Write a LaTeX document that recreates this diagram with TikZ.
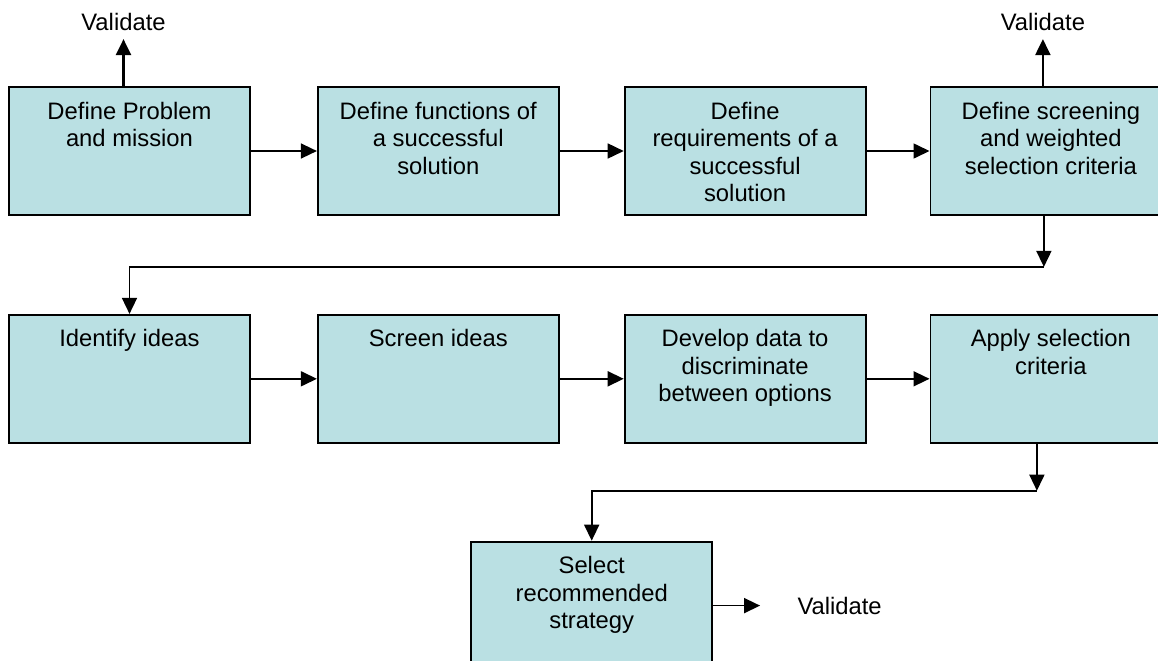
\documentclass[tikz,border=0pt]{standalone}
\usepackage{fontspec}
\setmainfont{Liberation Sans}
\usetikzlibrary{positioning,arrows.meta,calc}
\definecolor{stepfill}{RGB}{186,224,227}
\newcommand{\steptext}[1]{\parbox[c][64pt][t]{118pt}{\centering\rule{0pt}{16pt}#1}}

\begin{document}
\begin{tikzpicture}[
    x=0.5pt, y=-0.5pt,
    every node/.style={
        font=\fontsize{11.9}{13.75}\selectfont
      },
    stepbox/.style={
        draw,
        fill=stepfill,
        line width=0.9pt,
        inner sep=0pt,
        minimum width=120.5pt,
        minimum height=64pt
      },
    link/.style={line width=0.8pt, -{Triangle[length=8pt,width=7.5pt]}}
    ]
    \useasboundingbox (0,0) rectangle (1158,660);
    \clip (0,0) rectangle (1158,660);

    % ============= DEFINITION (ROW 1) ==================

    % -------------------------------
    \node[stepbox] at (129.5,151) (DP) {\steptext{Define Problem\\and mission}};
    % -------------------------------

    % -------------------------------
    \node[stepbox, right=33pt of DP] (DF) {\steptext{Define functions of\\a successful\\solution}};
    % -------------------------------

    % -------------------------------
    \node[stepbox, right=32pt of DF] (DR) {\steptext{Define\\requirements of a\\successful\\solution}};
    % -------------------------------

    % -------------------------------
    \node[stepbox, right=31.5pt of DR] (DS) {\steptext{Define screening\\and weighted\\selection criteria}};
    % -------------------------------

    % ============= IDEAS (ROW 2) ==================

    % -------------------------------
    \node[stepbox, below=49pt of DP] (II) {\steptext{Identify ideas}};
    % -------------------------------

    % -------------------------------
    \node[stepbox, below=49pt of DF] (SI) {\steptext{Screen ideas}};
    % -------------------------------

    % -------------------------------
    \node[stepbox, below=49pt of DR] (DD) {\steptext{Develop data to\\discriminate\\between options}};
    % -------------------------------

    % -------------------------------
    \node[stepbox, below=49pt of DS] (AS) {\steptext{Apply selection\\criteria}};
    % -------------------------------

    % ============= STRATEGY ==================

    % -------------------------------
    \coordinate (mid) at ($(SI.south)!0.5!(DD.south)$);
    \node[stepbox, below=48.5pt of mid] (SR) {\steptext{Select\\recommended\\strategy}};
    % -------------------------------

    % ============= VALIDATE ==================
    \node[above=23.5pt of DP.north, xshift=-3pt, inner sep=4pt] (V1) {Validate};
    \node[above=23.5pt of DS.north, xshift=-4pt, inner sep=4pt] (V2) {Validate};
    \coordinate[right=23.5pt of SR.east] (T3);
    \node[right=18.5pt of T3, inner sep=0pt] (V3) {Validate};

    % ============= LIGNES ==================
    \draw[link] (DP) -- (DF);
    \draw[link] (DF) -- (DR);
    \draw[link] (DR) -- (DS);
    \draw[link] (II) -- (SI);
    \draw[link] (SI) -- (DD);
    \draw[link] (DD) -- (AS);

    \draw[link, line width=1.1pt] (DP.north -| V1) -- (V1);
    \draw[link, line width=1.1pt] (DS.north -| V2) -- (V2);
    \draw[link] (SR.east) -- (T3);

    \coordinate[below=25.5pt of DS.south, xshift=-3.5pt] (J1);
    \draw[link] (DS.south -| J1) -- (J1);
    \draw[link] (J1) -| (II.north);

    \coordinate[below=23.5pt of AS.south, xshift=-7pt] (J2);
    \draw[link] (AS.south -| J2) -- (J2);
    \draw[link] (J2) -| (SR.north);

  \end{tikzpicture}
\end{document}
